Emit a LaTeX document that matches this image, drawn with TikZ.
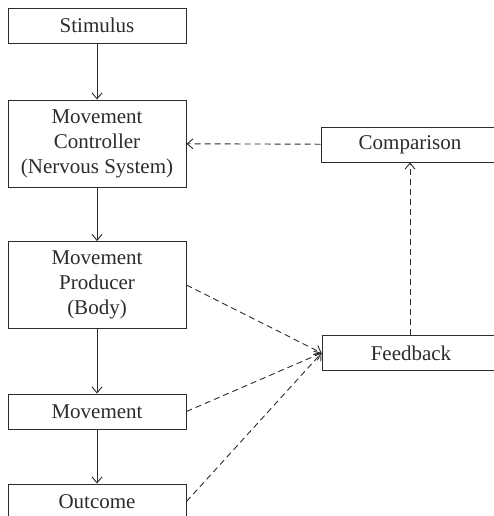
\documentclass[tikz,border=0pt]{standalone}
\usepackage{fontspec}
\setmainfont{Liberation Serif}
\newfontfamily\boxfont{Liberation Serif}
\usepackage{tikz}
\usetikzlibrary{positioning,arrows.meta}
\definecolor{inkGray}{HTML}{2b2b2b}

\begin{document}
\begin{tikzpicture}[
  x=1pt,y=-1pt,
  every node/.style={font=\boxfont\fontsize{21}{25}\selectfont,text=inkGray,inner sep=2pt},
  box/.style={draw=inkGray,line width=0.9pt,minimum width=178pt,minimum height=35pt,align=center},
  tallbox/.style={box,minimum height=87pt},
  flow/.style={-{Straight Barb[length=6pt,width=10pt]},line width=0.9pt,color=inkGray},
  loop/.style={flow,dash pattern=on 6pt off 4pt},
]
\useasboundingbox (0,0) rectangle (493,516);

% main chain -- left column
\node[box]     (stim) at (97,25.5)  {Stimulus};
\node[tallbox] (ctrl) at (97,143.5) {Movement\\Controller\\(Nervous System)};
\node[tallbox] (prod) at (97,285)   {Movement\\Producer\\(Body)};
\node[box]     (move) at (97,411.5) {Movement};
\node[box]     (outc) at (97,501.5) {Outcome};

\draw[flow] (stim) -- (ctrl);
\draw[flow] (ctrl) -- (prod);
\draw[flow] (prod) -- (move);
\draw[flow] (move) -- (outc);

% feedback loop -- right column
\node[box] (comp) at (410,144.5) {Comparison};
\node[box] (fdbk) at (411,353)   {Feedback};

\draw[loop] (comp) -- (ctrl);
\draw[loop] (fdbk.north -| comp) -- (comp);
\draw[loop] (prod.east) -- (fdbk.west);
\draw[loop] (move.east) -- (fdbk.west);
\draw[loop] (outc.east) -- (fdbk.west);
\end{tikzpicture}
\end{document}
